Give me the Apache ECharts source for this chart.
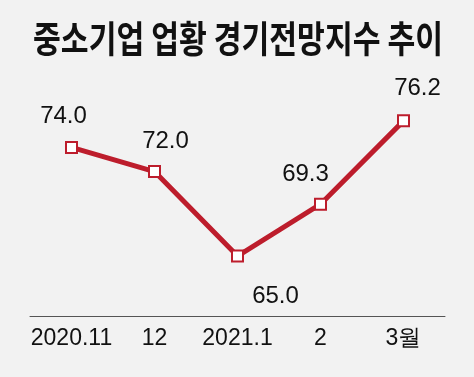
<!DOCTYPE html>
<html>
<head>
<meta charset="utf-8">
<script src="https://cdn.jsdelivr.net/npm/echarts@6/dist/echarts.min.js"></script>
<style>
  html, body { margin: 0; padding: 0; background: #f2f2f2; }
  #chart { width: 474px; height: 377px; }
</style>
</head>
<body>
<div id="chart"></div>
<script>
var titleText = '중소기업 업황 경기전망지수 추이'
var months = ['2020.11', '12', '2021.1', '2', '3월']
var indexValues = [74.0, 72.0, 65.0, 69.3, 76.2]
// label offsets [dx, dy] from each point
var labelOffsets = [[-8, -31], [11, -30], [38, 40], [-15, -30], [14, -32]]

var numFont = '"Liberation Sans Narrow", "Liberation Sans", sans-serif'
var red = '#bd1d2c'

var chart = echarts.init(document.getElementById('chart'))
chart.setOption({
  backgroundColor: '#f2f2f2',
  animation: false,
  graphic: [{
    type: 'text',
    x: 33,
    y: 40,
    scaleX: 0.84,
    scaleY: 1.03,
    originY: 40,
    style: {
      text: titleText,
      font: 'bold 36px "Noto Sans CJK KR"',
      fill: '#111',
      verticalAlign: 'middle'
    }
  }],
  grid: { left: 30, right: 29, top: 75, bottom: 60.6 },
  xAxis: {
    type: 'category',
    data: months,
    boundaryGap: true,
    axisLine: { lineStyle: { color: '#555', width: 1 } },
    axisTick: { inside: true, length: 6, alignWithLabel: true, lineStyle: { color: '#555' } },
    axisLabel: {
      interval: 0,
      margin: 11,
      color: '#111',
      fontSize: 23,
      fontFamily: numFont
    }
  },
  yAxis: {
    type: 'value',
    min: 60,
    max: 80,
    show: false,
    splitLine: { show: false }
  },
  series: [{
    type: 'line',
    data: indexValues.map(function (v, i) {
      return { value: v, label: { offset: labelOffsets[i] } }
    }),
    symbol: 'rect',
    symbolSize: 11,
    showAllSymbol: true,
    lineStyle: { color: red, width: 5 },
    itemStyle: { color: '#fff', borderColor: red, borderWidth: 2 },
    label: {
      show: true,
      position: 'inside',
      color: '#111',
      fontSize: 24,
      fontFamily: numFont,
      formatter: function (p) { return p.value.toFixed(1) }
    }
  }]
})
</script>
</body>
</html>
